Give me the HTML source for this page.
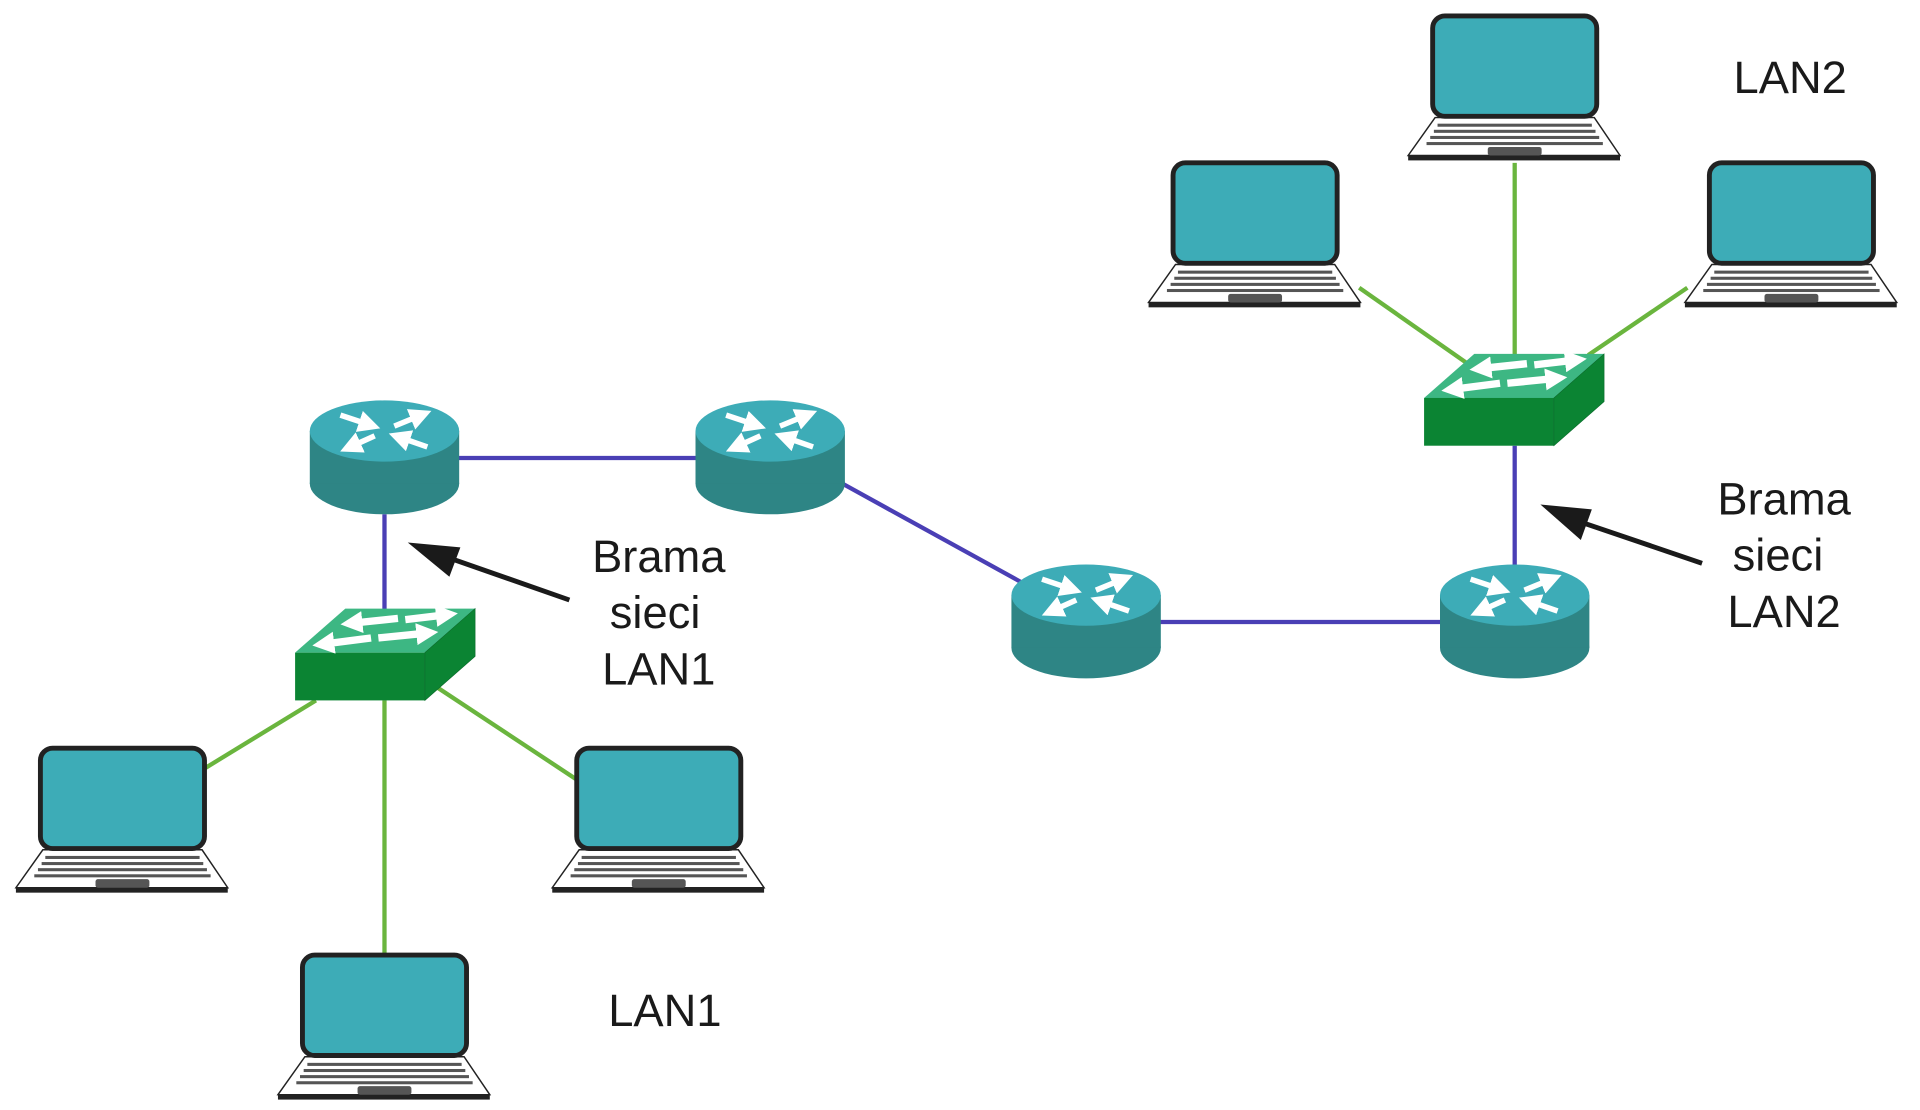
<!DOCTYPE html>
<html><head><meta charset="utf-8"><style>html,body{margin:0;padding:0;background:#fff}svg{display:block}</style></head>
<body>
<svg width="1920" height="1110" viewBox="0 0 1568 906.5" xmlns="http://www.w3.org/2000/svg">
<defs>
<marker id="wa" markerWidth="4" markerHeight="4" refX="2" refY="2" orient="auto" markerUnits="strokeWidth"><path d="M0,0 L4,2 L0,4 z" fill="#fff"/></marker>
<marker id="wb" markerWidth="3" markerHeight="3" refX="1.5" refY="1.5" orient="auto" markerUnits="strokeWidth"><path d="M0,0 L3,1.5 L0,3 z" fill="#fff"/></marker>
<g id="router">
  <ellipse cx="0" cy="43" rx="61" ry="25" fill="#2e8585"/>
  <rect x="-61" y="0" width="122" height="43" fill="#2e8585"/>
  <ellipse cx="0" cy="0" rx="61" ry="25" fill="#3dacb7"/>
  <g stroke="#fff" stroke-width="4.5" marker-end="url(#wa)">
    <line x1="-36" y1="-13" x2="-12" y2="-5"/>
    <line x1="8" y1="-4" x2="30" y2="-13"/>
    <line x1="-8" y1="4" x2="-28" y2="13"/>
    <line x1="35" y1="13" x2="12" y2="5"/>
  </g>
</g>
<g id="switch">
  <polygon points="0,36 106,36 147,0 41,0" fill="#3db783"/>
  <rect x="0" y="36" width="106" height="39" fill="#0b8433"/>
  <polygon points="106,36 147,0 147,39 106,75" fill="#0b8433" stroke="#0a6a2a" stroke-width="0.5"/>
  <g stroke="#fff" stroke-width="6" marker-end="url(#wb)">
    <line x1="84" y1="8" x2="46" y2="12"/>
    <line x1="90" y1="9" x2="124" y2="5"/>
    <line x1="62" y1="24" x2="23" y2="29"/>
    <line x1="68" y1="24" x2="108" y2="20"/>
  </g>
</g>
<g id="laptop">
  <polygon points="3,85 133,85 154,116 -19,116" fill="#fff" stroke="#222" stroke-width="1.2"/>
  <rect x="-19" y="116" width="173" height="4" fill="#222"/>
  <rect x="1" y="2" width="134" height="82" rx="10" fill="#3dacb7" stroke="#222" stroke-width="4"/>
  <g fill="#555">
    <rect x="5" y="90" width="126" height="2.5"/>
    <rect x="2" y="95" width="132" height="2.5"/>
    <rect x="-1" y="100" width="138" height="2.5"/>
    <rect x="-4" y="105" width="144" height="2.5"/>
    <rect x="46" y="109" width="44" height="7" rx="2"/>
  </g>
</g>
</defs>
<g stroke="#4a3fb5" stroke-width="3.5" fill="none">
  <line x1="374" y1="374" x2="569" y2="374"/>
  <line x1="314" y1="420" x2="314" y2="500"/>
  <line x1="688" y1="395" x2="835" y2="476"/>
  <line x1="947" y1="508" x2="1177" y2="508"/>
  <line x1="1237" y1="462" x2="1237" y2="364"/>
</g>
<g stroke="#6ab53e" stroke-width="3.5" fill="none">
  <line x1="258" y1="572" x2="168" y2="627"/>
  <line x1="314" y1="572" x2="314" y2="780"/>
  <line x1="358" y1="562" x2="470" y2="636"/>
  <line x1="1110" y1="235" x2="1200" y2="298"/>
  <line x1="1237" y1="133" x2="1237" y2="292"/>
  <line x1="1378" y1="235" x2="1297" y2="290"/>
</g>
<use href="#router" x="314" y="352"/>
<use href="#router" x="629" y="352"/>
<use href="#router" x="887" y="486"/>
<use href="#router" x="1237" y="486"/>
<use href="#switch" x="241" y="497"/>
<use href="#switch" x="1163" y="289"/>
<use href="#laptop" x="32" y="609"/>
<use href="#laptop" x="470" y="609"/>
<use href="#laptop" x="246" y="778"/>
<use href="#laptop" x="957" y="131"/>
<use href="#laptop" x="1169" y="11"/>
<use href="#laptop" x="1395" y="131"/>
<g stroke="#1a1a1a" stroke-width="4">
  <line x1="465" y1="490" x2="365" y2="455"/>
  <line x1="1390" y1="460" x2="1290" y2="426"/>
</g>
<polygon points="333,443 376,447 367,471" fill="#1a1a1a"/>
<polygon points="1258,412 1300,416 1291,441" fill="#1a1a1a"/>
<g font-family="Liberation Sans, sans-serif" font-size="37" fill="#1a1a1a" text-anchor="middle">
  <text x="538" y="467">Brama</text>
  <text x="535" y="513">sieci</text>
  <text x="538" y="559">LAN1</text>
  <text x="543" y="838">LAN1</text>
  <text x="1462" y="76">LAN2</text>
  <text x="1457" y="420">Brama</text>
  <text x="1452" y="466">sieci</text>
  <text x="1457" y="512">LAN2</text>
</g>
</svg>
</body></html>
